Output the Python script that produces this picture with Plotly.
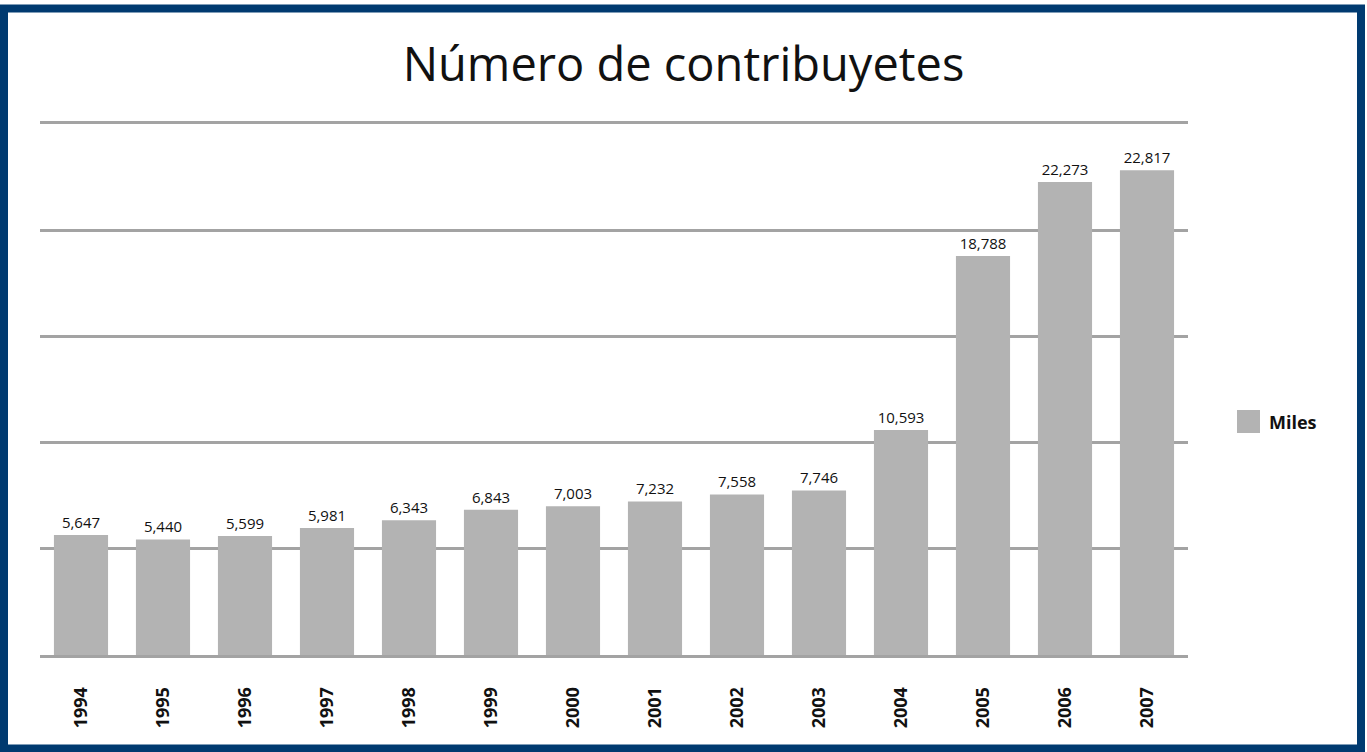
import plotly.graph_objects as go

years = ["1994", "1995", "1996", "1997", "1998", "1999", "2000",
         "2001", "2002", "2003", "2004", "2005", "2006", "2007"]
miles = [5647, 5440, 5599, 5981, 6343, 6843, 7003,
         7232, 7558, 7746, 10593, 18788, 22273, 22817]
series_name = "Miles"
title_text = "Número de contribuyetes"

W, H = 1367, 752
L, R, T, B = 40, 179, 124, 97
pw, ph = W - L - R, H - T - B

def px_x(p):
    return (p - L) / pw

def px_y(p):
    return (H - B - p) / ph

fig = go.Figure()
fig.add_trace(go.Bar(
    x=years, y=miles, name=series_name,
    marker=dict(color="#b3b3b3", line=dict(width=0)),
    text=[f"{v:,}" for v in miles], textposition="outside",
    textfont=dict(family="Open Sans", size=15, color="#111111"),
    cliponaxis=False, showlegend=False,
))

grid_col = "#a3a3a3"
fig.update_layout(
    width=W, height=H,
    margin=dict(l=L, r=R, t=T, b=B),
    paper_bgcolor="white", plot_bgcolor="white",
    title=dict(text=title_text, x=0.5, xref="container", xanchor="center",
               y=(H - 65) / H, yanchor="middle",
               font=dict(family="Open Sans", size=47, color="#111111")),
    bargap=0.34,
    showlegend=False,
    xaxis=dict(showgrid=False, showline=True, mirror=True, linecolor=grid_col,
               linewidth=3, zeroline=False,
               tickangle=-90, ticks="",
               ticklabelstandoff=22,
               tickfont=dict(family="Open Sans", size=18, color="#111111", weight="bold")),
    yaxis=dict(range=[0, 25000], dtick=5000, showgrid=True, gridcolor=grid_col,
               gridwidth=3, showticklabels=False, zeroline=False, showline=False,
               ticks=""),
    shapes=[
        dict(type="rect", xref="paper", yref="paper",
             x0=px_x(4), x1=px_x(1361), y0=px_y(748.5), y1=px_y(8.5),
             line=dict(color="#003a70", width=8), fillcolor="rgba(0,0,0,0)",
             layer="above"),
        dict(type="rect", xref="paper", yref="paper",
             x0=px_x(1237), x1=px_x(1260), y0=px_y(433), y1=px_y(410),
             line=dict(width=0), fillcolor="#b3b3b3"),
    ],
    annotations=[
        dict(text=series_name, xref="paper", yref="paper",
             x=px_x(1267), y=px_y(422), xanchor="left", yanchor="middle",
             showarrow=False,
             font=dict(family="Open Sans", size=18, color="#111111", weight="bold")),
    ],
)

fig.write_html("out.html", config={"displayModeBar": False},
               post_script="document.body.style.margin='0';document.body.style.overflow='hidden';")
